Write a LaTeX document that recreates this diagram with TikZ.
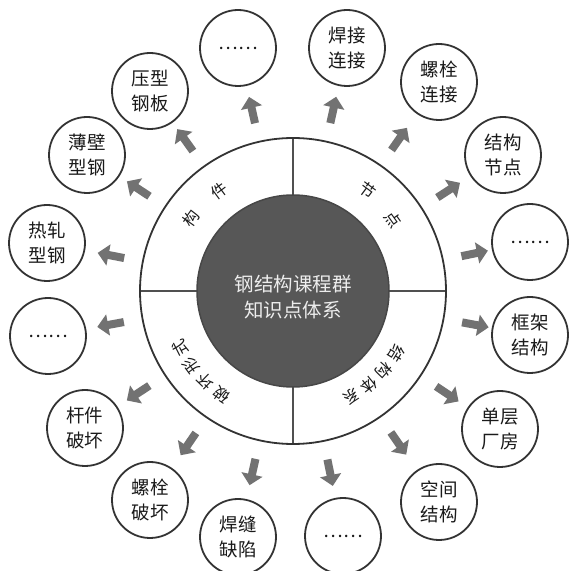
\documentclass[tikz,border=0pt]{standalone}
\usepackage{fontspec}
\setmainfont{Noto Sans CJK SC}
\usetikzlibrary{arrows.meta,calc}
\definecolor{lineC}{HTML}{333333}
\definecolor{divC}{HTML}{505050}
\definecolor{hubC}{HTML}{575757}
\definecolor{arrC}{HTML}{727272}
\definecolor{txtC}{HTML}{1A1A1A}
\begin{document}
\begin{tikzpicture}[x=1pt,y=1pt,
  leaf/.style={circle,draw=lineC,line width=1.8pt,minimum size=76pt,inner sep=0pt,
    align=center,font=\fontsize{18.5}{25}\selectfont,text=txtC},
  outarrow/.style={draw=arrC,line width=8pt,-{Triangle[length=11pt,width=21pt]}},
  ringtxt/.style={font=\fontsize{16}{16}\selectfont,inner sep=0pt,text=txtC},
  divider/.style={draw=divC,line width=1.6pt},
  ringline/.style={draw=lineC,line width=1.8pt}]
\useasboundingbox[fill=white] (0,0) rectangle (569,571);
\coordinate (C) at (293,280);
% dividers
\draw[divider] ($(C)+(0,90)$) -- ($(C)+(0,153)$);
\draw[divider] ($(C)+(0,-90)$) -- ($(C)+(0,-153)$);
\draw[divider] ($(C)+(90,0)$) -- ($(C)+(153,0)$);
\draw[divider] ($(C)+(-90,0)$) -- ($(C)+(-153,0)$);
% outer ring
\draw[ringline] (C) circle[radius=153];
% hub
\node[circle,fill=hubC,draw=lineC!90,line width=1.5pt,minimum size=192pt,inner sep=0pt] (hub) at (C) {};
\node[text=white!93!black,align=center,font=\fontsize{19.5}{26}\selectfont,inner sep=0pt] (hubtxt) at ($(C)+(0,-6)$) {钢结构课程群\\知识点体系};
% ring texts
\node[ringtxt,rotate=54.7] (r1) at ($(C)+(144.7:125)$) {构};
\node[ringtxt,rotate=36.4] (r2) at ($(C)+(126.4:124)$) {件};
\node[ringtxt,rotate=-36.6] (r3) at ($(C)+(53.4:125)$) {节};
\node[ringtxt,rotate=-54.6] (r4) at ($(C)+(35.4:123)$) {点};
\node[ringtxt,rotate=-121.3] (r5) at ($(C)+(-31.3:121)$) {结};
\node[ringtxt,rotate=-131.3] (r6) at ($(C)+(-41.3:121)$) {构};
\node[ringtxt,rotate=-141.3] (r7) at ($(C)+(-51.3:121)$) {体};
\node[ringtxt,rotate=-151.3] (r8) at ($(C)+(-61.3:121)$) {系};
\node[ringtxt,rotate=145.4] (r9) at ($(C)+(235.4:126)$) {破};
\node[ringtxt,rotate=135.9] (r10) at ($(C)+(225.9:126)$) {坏};
\node[ringtxt,rotate=126.3] (r11) at ($(C)+(216.3:126)$) {形};
\node[ringtxt,rotate=116.8] (r12) at ($(C)+(206.8:126)$) {式};
% leaf circles
\foreach \n/\x/\y/\t in {
  1/238/523/……, 2/150/480/压型\\钢板, 3/87/416/薄壁\\型钢, 4/47/328/热轧\\型钢,
  5/48/235/……, 6/85/143/杆件\\破坏, 7/150/71/螺栓\\破坏, 8/238/34/焊缝\\缺陷,
  9/343/35/……, 10/439/69/空间\\结构, 11/500/142/单层\\厂房, 12/530/236/框架\\结构,
  13/530/329/……, 14/503/416/结构\\节点, 15/439/489/螺栓\\连接, 16/347/523/焊接\\连接}
  \node[leaf] (n\n) at (\x,\y) {\t};
% arrows
\foreach \n in {1,...,16}
  \draw[outarrow] ($(C)!172pt!(n\n.center)$) -- ($(C)!199pt!(n\n.center)$);
\end{tikzpicture}
\end{document}
